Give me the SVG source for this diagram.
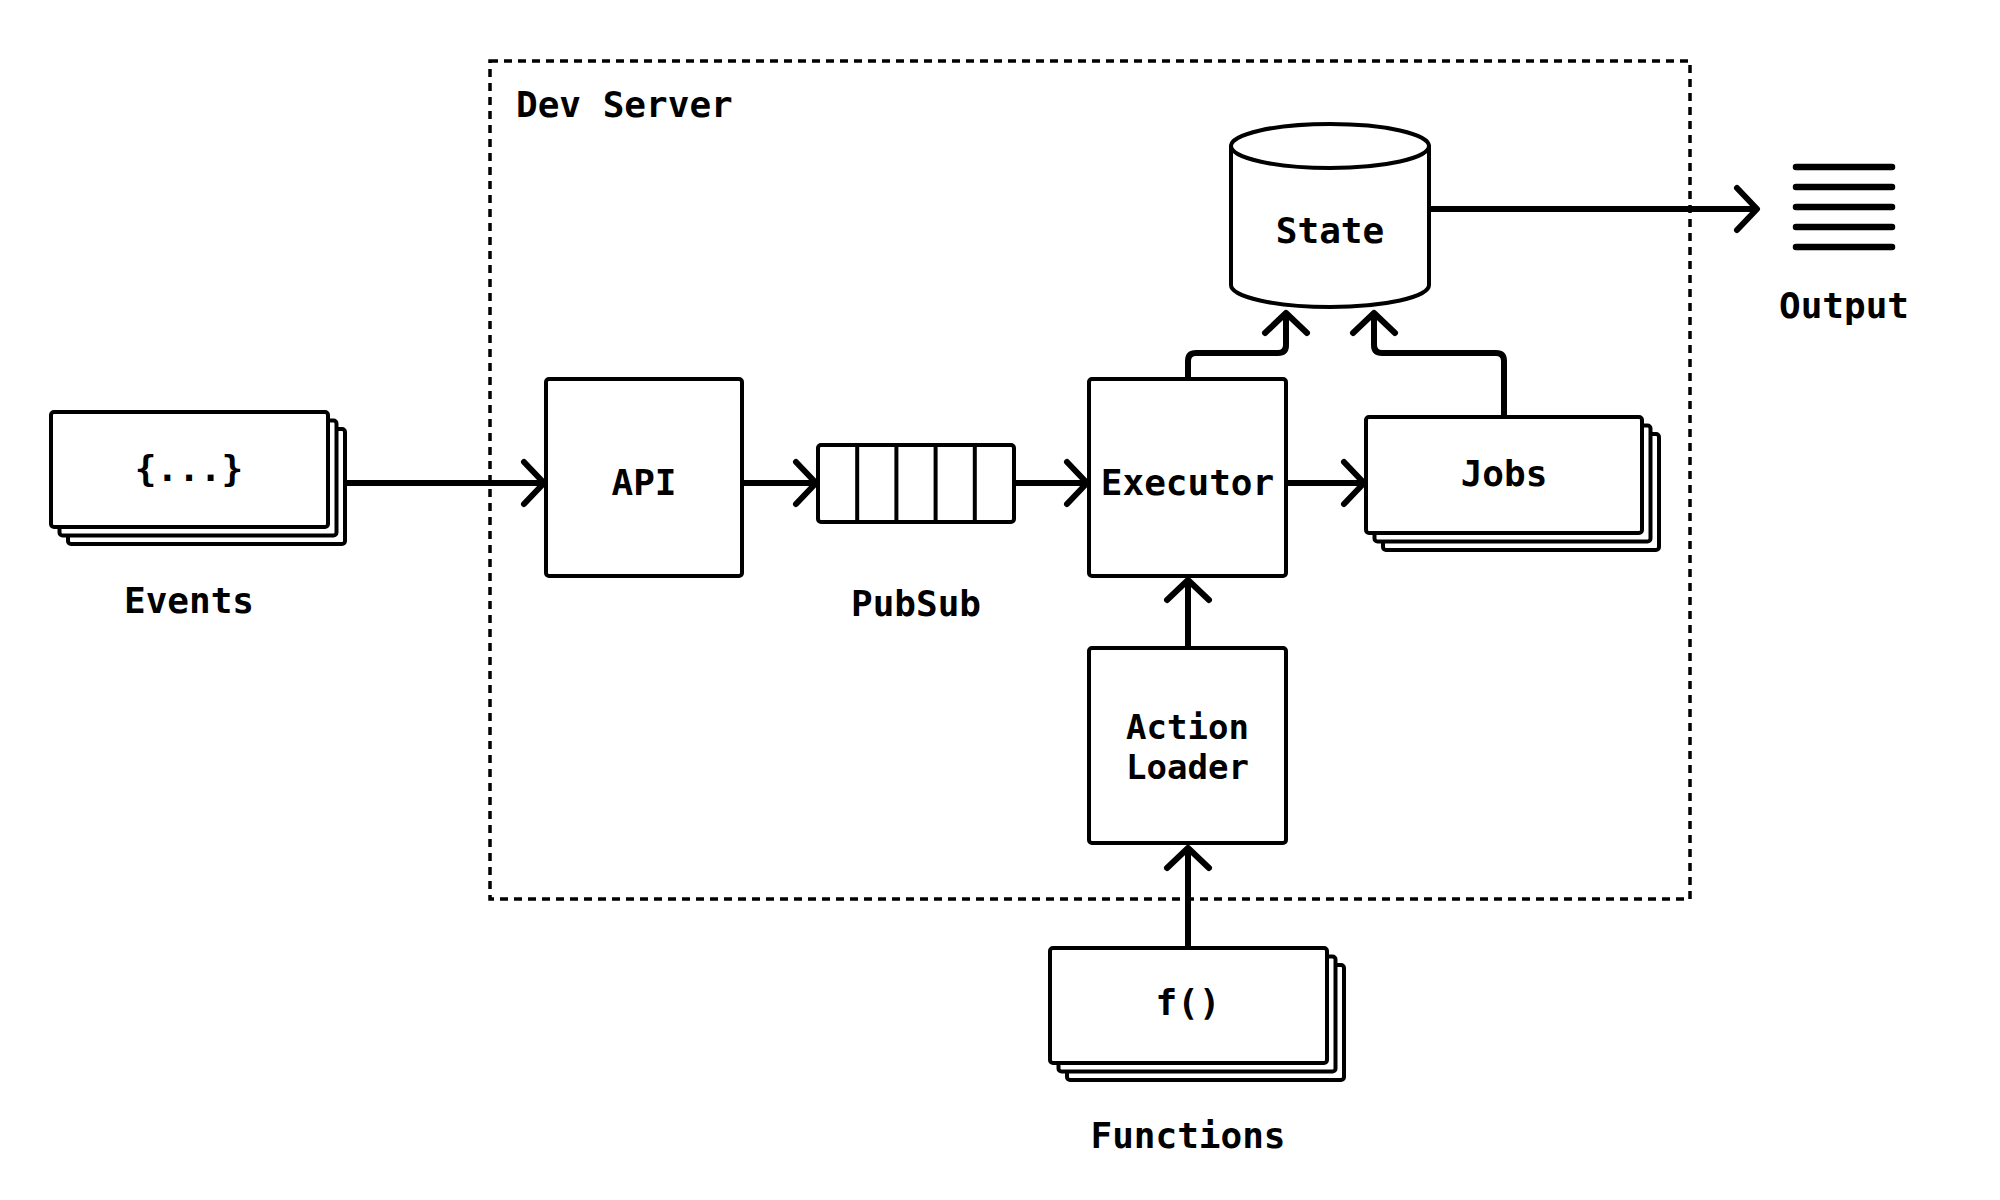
<svg xmlns="http://www.w3.org/2000/svg" width="2000" height="1200" viewBox="0 0 2000 1200">
<defs>
<style>
.box{fill:#fff;stroke:#000;stroke-width:4;stroke-linejoin:round}
.conn{fill:none;stroke:#000;stroke-width:6;stroke-linejoin:round}
.lbl{font-family:"DejaVu Sans Mono","Liberation Mono",monospace;font-weight:bold;font-size:36px;fill:#000;text-anchor:middle}
.out{stroke:#000;stroke-width:6.5;stroke-linecap:round}
</style>
<marker id="arr" markerUnits="userSpaceOnUse" markerWidth="60" markerHeight="60" viewBox="-30 -30 60 60" refX="0" refY="0" orient="auto" overflow="visible">
<path d="M-20,-21 L0,0 L-20,21" fill="none" stroke="#000" stroke-width="6" stroke-linecap="round" stroke-linejoin="round"/>
</marker>
</defs>
<rect width="2000" height="1200" fill="#fff"/>

<g id="dev-server">
<rect x="490" y="61" width="1200" height="838" fill="none" stroke="#000" stroke-width="3.5" stroke-dasharray="8,6"/>
<text class="lbl" x="516" y="117" style="text-anchor:start">Dev Server</text>
</g>

<g id="connectors">
<path class="conn" d="M345 483 H544" marker-end="url(#arr)"/>
<path class="conn" d="M742 483 H816" marker-end="url(#arr)"/>
<path class="conn" d="M1014 483 H1087" marker-end="url(#arr)"/>
<path class="conn" d="M1286 483 H1364" marker-end="url(#arr)"/>
<path class="conn" d="M1188 379 V361 Q1188 353 1196 353 H1278 Q1286 353 1286 345 V313" marker-end="url(#arr)"/>
<path class="conn" d="M1504 417 V361 Q1504 353 1496 353 H1382 Q1374 353 1374 345 V313" marker-end="url(#arr)"/>
<path class="conn" d="M1429 209 H1757" marker-end="url(#arr)"/>
<path class="conn" d="M1188 648 V580" marker-end="url(#arr)"/>
<path class="conn" d="M1188 948 V848" marker-end="url(#arr)"/>
</g>

<g id="events">
<rect class="box" x="68" y="429" width="277" height="115" rx="3"/>
<rect class="box" x="59.5" y="420.5" width="277" height="115" rx="3"/>
<rect class="box" x="51" y="412" width="277" height="115" rx="3"/>
<text class="lbl" x="189" y="481">{...}</text>
<text class="lbl" x="189" y="613">Events</text>
</g>

<g id="api">
<rect class="box" x="546" y="379" width="196" height="197" rx="3"/>
<text class="lbl" x="644" y="495">API</text>
</g>

<g id="pubsub">
<rect class="box" x="818" y="445" width="196" height="77" rx="3"/>
<path d="M857.2 445 V522 M896.4 445 V522 M935.6 445 V522 M974.8 445 V522" stroke="#000" stroke-width="4"/>
<text class="lbl" x="916" y="616">PubSub</text>
</g>

<g id="executor">
<rect class="box" x="1089" y="379" width="197" height="197" rx="3"/>
<text class="lbl" x="1187.5" y="495">Executor</text>
</g>

<g id="jobs">
<rect class="box" x="1383" y="434" width="276" height="116" rx="3"/>
<rect class="box" x="1374.5" y="425.5" width="276" height="116" rx="3"/>
<rect class="box" x="1366" y="417" width="276" height="116" rx="3"/>
<text class="lbl" x="1504" y="486">Jobs</text>
</g>

<g id="state">
<path class="box" d="M1231 146 V285 A99 22 0 0 0 1429 285 V146 Z"/>
<ellipse class="box" cx="1330" cy="146" rx="99" ry="22"/>
<text class="lbl" x="1330" y="243">State</text>
</g>

<g id="output">
<line class="out" x1="1796" y1="167" x2="1892" y2="167"/>
<line class="out" x1="1796" y1="187" x2="1892" y2="187"/>
<line class="out" x1="1796" y1="207" x2="1892" y2="207"/>
<line class="out" x1="1796" y1="227" x2="1892" y2="227"/>
<line class="out" x1="1796" y1="247" x2="1892" y2="247"/>
<text class="lbl" x="1844" y="318">Output</text>
</g>

<g id="action-loader">
<rect class="box" x="1089" y="648" width="197" height="195" rx="3"/>
<text class="lbl" style="font-size:34px"><tspan x="1187.5" y="739">Action</tspan><tspan x="1187.5" y="779">Loader</tspan></text>
</g>

<g id="functions">
<rect class="box" x="1067" y="965" width="277" height="115" rx="3"/>
<rect class="box" x="1058.5" y="956.5" width="277" height="115" rx="3"/>
<rect class="box" x="1050" y="948" width="277" height="115" rx="3"/>
<text class="lbl" x="1188" y="1015">f()</text>
<text class="lbl" x="1188" y="1148">Functions</text>
</g>
</svg>
